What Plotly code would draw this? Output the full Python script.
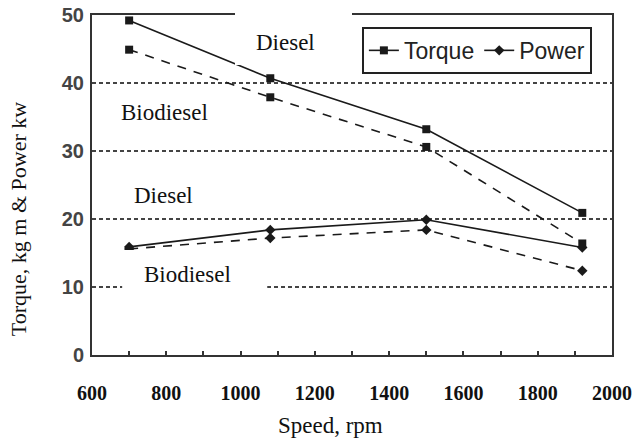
import plotly.graph_objects as go

speed = [700, 1080, 1500, 1920]
torque_diesel = [49.2, 40.7, 33.2, 20.9]
torque_biodiesel = [44.9, 37.9, 30.6, 16.4]
power_diesel = [15.9, 18.4, 19.9, 15.8]
power_biodiesel = [15.6, 17.2, 18.4, 12.4]

x_ticks = [600, 800, 1000, 1200, 1400, 1600, 1800, 2000]
y_ticks = [0, 10, 20, 30, 40, 50]

LINE = "#1a1a1a"
fig = go.Figure()
fig.add_trace(go.Scatter(x=speed, y=torque_diesel, name="Torque", mode="lines+markers",
                         line=dict(color=LINE, width=1.6),
                         marker=dict(symbol="square", size=8, color=LINE)))
fig.add_trace(go.Scatter(x=speed, y=power_diesel, name="Power", mode="lines+markers",
                         line=dict(color=LINE, width=1.6),
                         marker=dict(symbol="diamond", size=8, color=LINE)))
fig.add_trace(go.Scatter(x=speed, y=torque_biodiesel, name="Torque (biodiesel)", mode="lines+markers",
                         showlegend=False,
                         line=dict(color=LINE, width=1.6, dash="9px,8px"),
                         marker=dict(symbol="square", size=8, color=LINE)))
fig.add_trace(go.Scatter(x=speed, y=power_biodiesel, name="Power (biodiesel)", mode="lines+markers",
                         showlegend=False,
                         line=dict(color=LINE, width=1.6, dash="9px,8px"),
                         marker=dict(symbol="diamond", size=8, color=LINE)))

serif = "Liberation Serif, Times New Roman, serif"

# white label boxes (paper coordinates)
boxes = [
    (0.275, 0.500, 0.853, 1.02),
    (0.040, 0.252, 0.403, 0.559),
    (0.058, 0.337, 0.171, 0.309),
]
for x0, x1, y0, y1 in boxes:
    fig.add_shape(type="rect", xref="paper", yref="paper", x0=x0, x1=x1, y0=y0, y1=y1,
                  fillcolor="white", line=dict(width=0), layer="above")

# label text and its centre in data units
labels = [
    ("Diesel", 1120, 46.0),
    ("Biodiesel", 794, 35.6),
    ("Diesel", 792, 23.5),
    ("Biodiesel", 857, 11.8),
]
for txt, x, y in labels:
    fig.add_annotation(x=x, y=y, xref="x", yref="y", text=txt, showarrow=False,
                       font=dict(family=serif, size=23, color="#111"))

fig.add_annotation(x=0.4577, y=-0.206, xref="paper", yref="paper", text="Speed, rpm",
                   xanchor="center", yanchor="middle",
                   showarrow=False, font=dict(family=serif, size=23, color="#111"))
fig.add_annotation(x=-0.142, y=0.40, xref="paper", yref="paper",
                   text="Torque, kg m &amp; Power kw", textangle=-90,
                   xanchor="center", yanchor="middle",
                   showarrow=False, font=dict(family=serif, size=22, color="#111"))

fig.update_layout(
    width=633, height=441,
    margin=dict(l=92, r=21, t=15, b=86),
    paper_bgcolor="white", plot_bgcolor="white",
    showlegend=True,
    legend=dict(orientation="h", x=0.519, y=0.965, xanchor="left", yanchor="top",
                bgcolor="white", bordercolor="#222", borderwidth=2,
                font=dict(family="Liberation Sans Narrow, Arial Narrow, Liberation Sans, sans-serif",
                          size=23, color="#222"),
                itemwidth=30, tracegroupgap=0),
    xaxis=dict(range=[600, 2000], tickvals=x_ticks, ticktext=[str(v) for v in x_ticks],
               automargin=False,
               showgrid=False, zeroline=False, showline=True, mirror=True,
               linecolor="#333", linewidth=2, ticks="inside", ticklen=4,
               tickcolor="#333", tickwidth=1.5,
               minor=dict(dtick=100, tick0=600, ticks="inside", ticklen=4,
                          tickcolor="#333", tickwidth=1.5, showgrid=False),
               tickfont=dict(family=serif, size=20, color="#111", weight="bold"),
               ticklabelstandoff=19),
    yaxis=dict(range=[0, 50], tickvals=y_ticks, ticktext=[str(v) for v in y_ticks],
               automargin=False,
               showgrid=True, gridcolor="#444", gridwidth=2, griddash="4px,3px",
               zeroline=False, showline=True, mirror=True,
               linecolor="#333", linewidth=2, ticks="",
               tickfont=dict(family="Liberation Sans, Arial, sans-serif", size=20,
                             color="#444", weight="bold"),
               ticklabelstandoff=2),
)

fig.write_html("out.html")
